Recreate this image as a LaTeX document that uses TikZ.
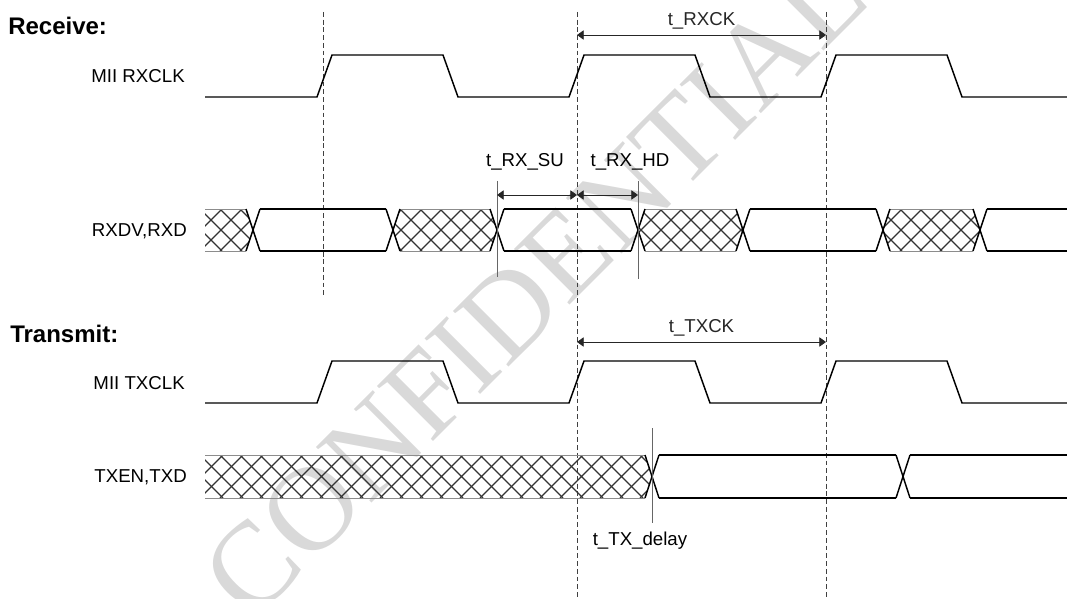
\documentclass[tikz,border=0pt]{standalone}
\usepackage{fontspec}
\setmainfont{Liberation Sans}
\newfontfamily\wmfont{Liberation Serif}
\usetikzlibrary{arrows.meta}

\tikzset{
  sig/.style={line width=1.1pt, line join=miter},
  gridline/.style={black!75, line width=0.6pt, dash pattern=on 3.6pt off 2.2pt},
  markline/.style={black!60, line width=0.75pt},
  dim/.style={{Triangle[length=5pt,width=7pt]}-{Triangle[length=5pt,width=7pt]}, black!85, line width=0.6pt},
  hatchline/.style={black!80, line width=0.95pt},
  hatchedge/.style={black!45, line width=0.6pt},
  lbl/.style={font=\fontsize{14}{16}\selectfont},
  hdr/.style={font=\fontsize{18}{20}\selectfont\bfseries, inner sep=0pt}
}

% clock wave: #1 low level, #2 high level
\newcommand\clkwave[2]{%
  \draw[sig] (205,#1) foreach \r in {317,569,821}
    { -- (\r,#1) -- ({\r+15},#2) -- ({\r+126},#2) -- ({\r+141},#1) } -- (1067,#1);}
% bus crossing: #1 centre, #2 top, #3 bottom
\newcommand\busx[3]{%
  \draw[sig] ({#1-7},#2) -- ({#1+7},#3) ({#1-7},#3) -- ({#1+7},#2);}
% valid data between two crossings
\newcommand\busvalid[4]{%
  \draw[sig] ({#1+7},#3) -- ({#2-7},#3) ({#1+7},#4) -- ({#2-7},#4);}
% undefined data between two crossings
\newcommand\bushatch[4]{%
  \begin{scope}
    \clip (205,0) rectangle (1067,599);
    \clip (#1,{(#3+#4)/2}) -- ({#1+7},#3) -- ({#2-7},#3) -- (#2,{(#3+#4)/2})
      -- ({#2-7},#4) -- ({#1+7},#4) -- cycle;
    \foreach \k in {0,20,...,1100}
      \draw[hatchline] (\k,#3) -- ++({#4-#3},{#4-#3}) (\k,#4) -- ++({#4-#3},{#3-#4});
  \end{scope}
  \draw[hatchedge] ({max(#1+7,205)},#3) -- ({#2-7},#3) ({max(#1+7,205)},#4) -- ({#2-7},#4);}

\begin{document}
\begin{tikzpicture}[x=0.75pt, y=-0.75pt]
  \useasboundingbox (0,0) rectangle (1067,599);

  % watermark
  \node[rotate=45, text=black!15, font=\fontsize{90}{90}\selectfont\wmfont] (wm) at (535,285) {CONFIDENTIAL};

  % clock edges
  \coordinate (e0t) at (323,12);  \coordinate (e0b) at (323,297);
  \coordinate (e1t) at (577,12);  \coordinate (e1b) at (577,599);
  \coordinate (e2t) at (826,12);  \coordinate (e2b) at (826,599);
  \foreach \e in {0,1,2}
    \draw[gridline] (e\e t) -- (e\e b);

  % Receive
  \node[hdr, anchor=base west] (rxhdr) at (8,35) {Receive:};
  \node[lbl, inner sep=0pt, anchor=base east] (rxclk) at (185,83) {MII RXCLK};
  \node[lbl, inner sep=0pt, anchor=base east] (rxd) at (187,236) {RXDV,RXD};
  \clkwave{97}{55}

  \bushatch{198}{253}{209}{251}
  \bushatch{393}{497}{209}{251}
  \bushatch{638}{743}{209}{251}
  \bushatch{883}{980}{209}{251}
  \busvalid{253}{393}{209}{251}
  \busvalid{497}{638}{209}{251}
  \busvalid{743}{883}{209}{251}
  \busvalid{980}{1081}{209}{251}
  \foreach \c in {253,393,497,638,743,883,980}
    \busx{\c}{209}{251};

  \coordinate (su) at (497,181);  \coordinate (sub) at (497,277);
  \coordinate (hd) at (638,181);  \coordinate (hdb) at (638,279);
  \draw[markline] (su) -- (sub);
  \draw[markline] (hd) -- (hdb);
  \coordinate (rxa) at (577,35);  \coordinate (rxb) at (826,35);
  \draw[dim] (rxa) -- node[lbl, above=1pt] (trxck) {t\_RXCK} (rxb);
  \coordinate (sua) at (497,195); \coordinate (sum) at (577,195); \coordinate (hda) at (638,195);
  \draw[dim] (sua) -- (sum);
  \draw[dim] (sum) -- (hda);
  \node[lbl, anchor=base] (trxsu) at (525,167) {t\_RX\_SU};
  \node[lbl, anchor=base] (trxhd) at (630,167) {t\_RX\_HD};

  % Transmit
  \node[hdr, anchor=base west] (txhdr) at (10,342) {Transmit:};
  \node[lbl, inner sep=0pt, anchor=base east] (txclk) at (185,389) {MII TXCLK};
  \node[lbl, inner sep=0pt, anchor=base east] (txd) at (187,482) {TXEN,TXD};
  \clkwave{403}{361}

  \bushatch{198}{652}{455}{498}
  \busvalid{652}{903}{455}{498}
  \busvalid{903}{1081}{455}{498}
  \foreach \c in {652,903}
    \busx{\c}{455}{498};

  \coordinate (dl) at (652,428);  \coordinate (dlb) at (652,523);
  \draw[markline] (dl) -- (dlb);
  \node[lbl, anchor=base] (ttxdl) at (640,545) {t\_TX\_delay};
  \coordinate (txa) at (577,342); \coordinate (txb) at (826,342);
  \draw[dim] (txa) -- node[lbl, above=1pt] (ttxck) {t\_TXCK} (txb);
\end{tikzpicture}
\end{document}
